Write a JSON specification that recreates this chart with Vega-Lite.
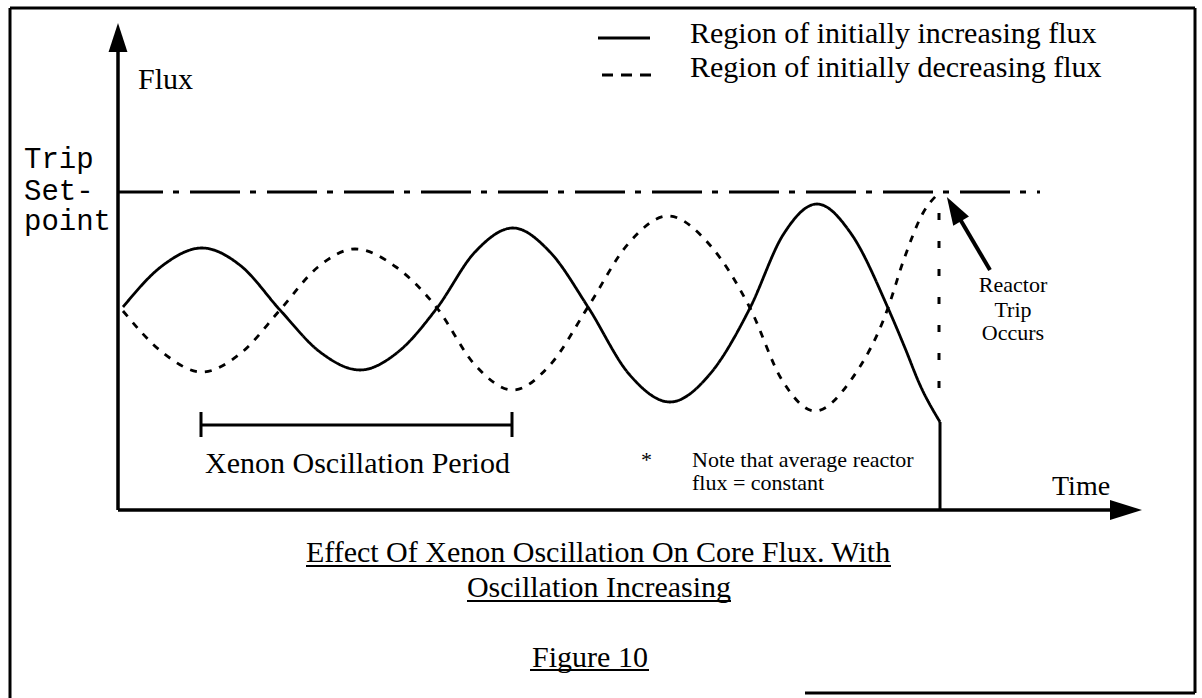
{
  "$schema": "https://vega.github.io/schema/vega-lite/v6.json",
  "width": 1202,
  "height": 698,
  "padding": 0,
  "autosize": {"type": "none"},
  "background": "white",
  "config": {"view": {"stroke": null}},
  "datasets": {
    "curves": [
      {"series": "increasing", "t": 0.5, "f": 20.3},
      {"series": "increasing", "t": 4.4, "f": 24.4},
      {"series": "increasing", "t": 8.4, "f": 26.2},
      {"series": "increasing", "t": 12.3, "f": 24.4},
      {"series": "increasing", "t": 16.2, "f": 20.0},
      {"series": "increasing", "t": 20.2, "f": 15.8},
      {"series": "increasing", "t": 24.2, "f": 14.0},
      {"series": "increasing", "t": 28.0, "f": 15.8},
      {"series": "increasing", "t": 31.9, "f": 20.2},
      {"series": "increasing", "t": 35.7, "f": 25.8},
      {"series": "increasing", "t": 39.5, "f": 28.2},
      {"series": "increasing", "t": 43.2, "f": 25.8},
      {"series": "increasing", "t": 47.0, "f": 20.3},
      {"series": "increasing", "t": 51.1, "f": 13.6},
      {"series": "increasing", "t": 55.2, "f": 10.8},
      {"series": "increasing", "t": 59.2, "f": 13.6},
      {"series": "increasing", "t": 63.2, "f": 20.2},
      {"series": "increasing", "t": 66.5, "f": 27.5},
      {"series": "increasing", "t": 69.9, "f": 30.6},
      {"series": "increasing", "t": 73.4, "f": 27.5},
      {"series": "increasing", "t": 77.0, "f": 20.2},
      {"series": "increasing", "t": 78.7, "f": 16.2},
      {"series": "increasing", "t": 80.2, "f": 12.5},
      {"series": "increasing", "t": 82.2, "f": 8.8},
      {"series": "decreasing", "t": 0.5, "f": 19.9},
      {"series": "decreasing", "t": 4.4, "f": 15.8},
      {"series": "decreasing", "t": 8.4, "f": 13.8},
      {"series": "decreasing", "t": 12.3, "f": 15.7},
      {"series": "decreasing", "t": 16.2, "f": 20.0},
      {"series": "decreasing", "t": 20.0, "f": 24.3},
      {"series": "decreasing", "t": 23.7, "f": 26.1},
      {"series": "decreasing", "t": 27.8, "f": 24.3},
      {"series": "decreasing", "t": 31.9, "f": 20.2},
      {"series": "decreasing", "t": 35.7, "f": 14.5},
      {"series": "decreasing", "t": 39.5, "f": 12.0},
      {"series": "decreasing", "t": 43.2, "f": 14.5},
      {"series": "decreasing", "t": 47.0, "f": 20.3},
      {"series": "decreasing", "t": 51.0, "f": 26.6},
      {"series": "decreasing", "t": 55.0, "f": 29.4},
      {"series": "decreasing", "t": 59.1, "f": 26.6},
      {"series": "decreasing", "t": 63.2, "f": 20.2},
      {"series": "decreasing", "t": 66.4, "f": 13.0},
      {"series": "decreasing", "t": 69.7, "f": 9.9},
      {"series": "decreasing", "t": 73.3, "f": 13.0},
      {"series": "decreasing", "t": 77.0, "f": 20.2},
      {"series": "decreasing", "t": 78.5, "f": 24.8},
      {"series": "decreasing", "t": 80.5, "f": 29.7},
      {"series": "decreasing", "t": 82.1, "f": 31.7}
    ],
    "segments": [
      {"kind": "frame", "t": -10.8, "f": 50.2, "t2": 107.7, "f2": 50.2},
      {"kind": "frame", "t": -10.8, "f": 50.2, "t2": -10.8, "f2": -18.8},
      {"kind": "frame", "t": 107.7, "f": 50.2, "t2": 107.7, "f2": -18.3},
      {"kind": "frame", "t": 68.7, "f": -18.3, "t2": 107.7, "f2": -18.3},
      {"kind": "axis", "t": 0, "f": 0, "t2": 0, "f2": 46.2},
      {"kind": "axis", "t": 0, "f": 0, "t2": 99.4, "f2": 0},
      {"kind": "trip", "t": 0, "f": 31.8, "t2": 92.2, "f2": 31.8},
      {"kind": "bar", "t": 8.3, "f": 8.5, "t2": 39.4, "f2": 8.5},
      {"kind": "bar", "t": 8.3, "f": 7.3, "t2": 8.3, "f2": 9.8},
      {"kind": "bar", "t": 39.4, "f": 7.3, "t2": 39.4, "f2": 9.8},
      {"kind": "bar", "t": 82.2, "f": 8.8, "t2": 82.2, "f2": 0},
      {"kind": "dropDashed", "t": 82.1, "f": 29.7, "t2": 82.1, "f2": 11.0},
      {"kind": "pointer", "t": 87.2, "f": 24.0, "t2": 83.9, "f2": 29.6},
      {"kind": "legendSolid", "t": 48.0, "f": 47.2, "t2": 53.2, "f2": 47.2},
      {"kind": "legendDashed", "t": 48.4, "f": 43.5, "t2": 53.6, "f2": 43.5},
      {"kind": "underline", "t": 18.8, "f": -5.6, "t2": 77.3, "f2": -5.6},
      {"kind": "underline", "t": 34.9, "f": -9.1, "t2": 61.3, "f2": -9.1},
      {"kind": "underline", "t": 41.2, "f": -16.0, "t2": 53.1, "f2": -16.0}
    ],
    "heads": [
      {"name": "yaxis", "t": 0, "f": 47.25},
      {"name": "xaxis", "t": 100.8, "f": 0},
      {"name": "trip", "t": 83.6, "f": 30.1}
    ],
    "labels": [
      {"group": "serif", "t": 2.0, "f": 42.1, "text": "Flux"},
      {"group": "serif", "t": 57.2, "f": 46.7, "text": "Region of initially increasing flux"},
      {"group": "serif", "t": 57.2, "f": 43.3, "text": "Region of initially decreasing flux"},
      {"group": "serif", "t": 8.7, "f": 3.7, "text": "Xenon Oscillation Period"},
      {"group": "mono", "t": -9.4, "f": 34.2, "text": "Trip"},
      {"group": "mono", "t": -9.4, "f": 31.0, "text": "Set-"},
      {"group": "mono", "t": -9.4, "f": 28.0, "text": "point"},
      {"group": "small", "t": 52.3, "f": 4.3, "text": "*"},
      {"group": "small", "t": 57.4, "f": 4.3, "text": "Note that average reactor"},
      {"group": "small", "t": 57.4, "f": 2.0, "text": "flux = constant"},
      {"group": "smallc", "t": 89.5, "f": 21.8, "text": "Reactor"},
      {"group": "smallc", "t": 89.5, "f": 19.3, "text": "Trip"},
      {"group": "smallc", "t": 89.5, "f": 17.0, "text": "Occurs"},
      {"group": "time", "t": 93.4, "f": 1.5, "text": "Time"},
      {"group": "title", "t": 48.0, "f": -5.2, "text": "Effect Of Xenon Oscillation On Core Flux. With"},
      {"group": "title", "t": 48.1, "f": -8.7, "text": "Oscillation Increasing"},
      {"group": "title", "t": 47.2, "f": -15.7, "text": "Figure 10"}
    ]
  },
  "layer": [
    {
      "data": {"name": "segments"},
      "transform": [{"filter": "datum.kind === 'frame'"}],
      "mark": {"type": "rule", "color": "black", "strokeWidth": 3},
      "encoding": {
        "x": {"field": "t", "type": "quantitative", "scale": {"domain": [-11.8, 108.4], "nice": false, "zero": false}, "axis": null},
        "y": {"field": "f", "type": "quantitative", "scale": {"domain": [-18.8, 51], "nice": false, "zero": false}, "axis": null},
        "x2": {"field": "t2"},
        "y2": {"field": "f2"}
      }
    },
    {
      "data": {"name": "segments"},
      "transform": [{"filter": "datum.kind === 'axis'"}],
      "mark": {"type": "rule", "color": "black", "strokeWidth": 3.5},
      "encoding": {
        "x": {"field": "t", "type": "quantitative", "scale": {"domain": [-11.8, 108.4], "nice": false, "zero": false}, "axis": null},
        "y": {"field": "f", "type": "quantitative", "scale": {"domain": [-18.8, 51], "nice": false, "zero": false}, "axis": null},
        "x2": {"field": "t2"},
        "y2": {"field": "f2"}
      }
    },
    {
      "data": {"name": "segments"},
      "transform": [{"filter": "datum.kind === 'trip'"}],
      "mark": {"type": "rule", "color": "black", "strokeWidth": 3, "strokeDash": [50, 10, 6, 11], "strokeDashOffset": 5},
      "encoding": {
        "x": {"field": "t", "type": "quantitative", "scale": {"domain": [-11.8, 108.4], "nice": false, "zero": false}, "axis": null},
        "y": {"field": "f", "type": "quantitative", "scale": {"domain": [-18.8, 51], "nice": false, "zero": false}, "axis": null},
        "x2": {"field": "t2"},
        "y2": {"field": "f2"}
      }
    },
    {
      "data": {"name": "segments"},
      "transform": [{"filter": "datum.kind === 'bar' || datum.kind === 'legendSolid'"}],
      "mark": {"type": "rule", "color": "black", "strokeWidth": 3},
      "encoding": {
        "x": {"field": "t", "type": "quantitative", "scale": {"domain": [-11.8, 108.4], "nice": false, "zero": false}, "axis": null},
        "y": {"field": "f", "type": "quantitative", "scale": {"domain": [-18.8, 51], "nice": false, "zero": false}, "axis": null},
        "x2": {"field": "t2"},
        "y2": {"field": "f2"}
      }
    },
    {
      "data": {"name": "segments"},
      "transform": [{"filter": "datum.kind === 'dropDashed'"}],
      "mark": {"type": "rule", "color": "black", "strokeWidth": 3, "strokeDash": [7, 21]},
      "encoding": {
        "x": {"field": "t", "type": "quantitative", "scale": {"domain": [-11.8, 108.4], "nice": false, "zero": false}, "axis": null},
        "y": {"field": "f", "type": "quantitative", "scale": {"domain": [-18.8, 51], "nice": false, "zero": false}, "axis": null},
        "x2": {"field": "t2"},
        "y2": {"field": "f2"}
      }
    },
    {
      "data": {"name": "segments"},
      "transform": [{"filter": "datum.kind === 'legendDashed'"}],
      "mark": {"type": "rule", "color": "black", "strokeWidth": 3, "strokeDash": [11, 8]},
      "encoding": {
        "x": {"field": "t", "type": "quantitative", "scale": {"domain": [-11.8, 108.4], "nice": false, "zero": false}, "axis": null},
        "y": {"field": "f", "type": "quantitative", "scale": {"domain": [-18.8, 51], "nice": false, "zero": false}, "axis": null},
        "x2": {"field": "t2"},
        "y2": {"field": "f2"}
      }
    },
    {
      "data": {"name": "segments"},
      "transform": [{"filter": "datum.kind === 'pointer'"}],
      "mark": {"type": "rule", "color": "black", "strokeWidth": 4},
      "encoding": {
        "x": {"field": "t", "type": "quantitative", "scale": {"domain": [-11.8, 108.4], "nice": false, "zero": false}, "axis": null},
        "y": {"field": "f", "type": "quantitative", "scale": {"domain": [-18.8, 51], "nice": false, "zero": false}, "axis": null},
        "x2": {"field": "t2"},
        "y2": {"field": "f2"}
      }
    },
    {
      "data": {"name": "segments"},
      "transform": [{"filter": "datum.kind === 'underline'"}],
      "mark": {"type": "rule", "color": "black", "strokeWidth": 2},
      "encoding": {
        "x": {"field": "t", "type": "quantitative", "scale": {"domain": [-11.8, 108.4], "nice": false, "zero": false}, "axis": null},
        "y": {"field": "f", "type": "quantitative", "scale": {"domain": [-18.8, 51], "nice": false, "zero": false}, "axis": null},
        "x2": {"field": "t2"},
        "y2": {"field": "f2"}
      }
    },
    {
      "data": {"name": "curves"},
      "mark": {"type": "line", "interpolate": "monotone", "color": "black", "strokeWidth": 2.8, "strokeCap": "butt"},
      "encoding": {
        "x": {"field": "t", "type": "quantitative", "scale": {"domain": [-11.8, 108.4], "nice": false, "zero": false}, "axis": null},
        "y": {"field": "f", "type": "quantitative", "scale": {"domain": [-18.8, 51], "nice": false, "zero": false}, "axis": null},
        "strokeDash": {"field": "series", "type": "nominal", "scale": {"domain": ["increasing", "decreasing"], "range": [[1, 0], [7, 8]]}, "legend": null}
      }
    },
    {
      "data": {"name": "heads"},
      "transform": [{"filter": "datum.name === 'yaxis'"}],
      "mark": {"type": "point", "shape": "M0,-1L0.65,1L-0.65,1Z", "size": 841, "filled": true, "color": "black", "opacity": 1, "strokeWidth": 0},
      "encoding": {
        "x": {"field": "t", "type": "quantitative", "scale": {"domain": [-11.8, 108.4], "nice": false, "zero": false}, "axis": null},
        "y": {"field": "f", "type": "quantitative", "scale": {"domain": [-18.8, 51], "nice": false, "zero": false}, "axis": null}
      }
    },
    {
      "data": {"name": "heads"},
      "transform": [{"filter": "datum.name === 'xaxis'"}],
      "mark": {"type": "point", "shape": "M1,0L-1,-0.62L-1,0.62Z", "size": 1024, "filled": true, "color": "black", "opacity": 1, "strokeWidth": 0},
      "encoding": {
        "x": {"field": "t", "type": "quantitative", "scale": {"domain": [-11.8, 108.4], "nice": false, "zero": false}, "axis": null},
        "y": {"field": "f", "type": "quantitative", "scale": {"domain": [-18.8, 51], "nice": false, "zero": false}, "axis": null}
      }
    },
    {
      "data": {"name": "heads"},
      "transform": [{"filter": "datum.name === 'trip'"}],
      "mark": {"type": "point", "shape": "M0,-1L0.65,1L-0.65,1Z", "size": 784, "angle": -30.5, "filled": true, "color": "black", "opacity": 1, "strokeWidth": 0},
      "encoding": {
        "x": {"field": "t", "type": "quantitative", "scale": {"domain": [-11.8, 108.4], "nice": false, "zero": false}, "axis": null},
        "y": {"field": "f", "type": "quantitative", "scale": {"domain": [-18.8, 51], "nice": false, "zero": false}, "axis": null}
      }
    },
    {
      "data": {"name": "labels"},
      "transform": [{"filter": "datum.group === 'serif'"}],
      "mark": {"type": "text", "font": "Liberation Serif", "fontSize": 30, "align": "left", "baseline": "alphabetic", "color": "black"},
      "encoding": {
        "x": {"field": "t", "type": "quantitative", "scale": {"domain": [-11.8, 108.4], "nice": false, "zero": false}, "axis": null},
        "y": {"field": "f", "type": "quantitative", "scale": {"domain": [-18.8, 51], "nice": false, "zero": false}, "axis": null},
        "text": {"field": "text"}
      }
    },
    {
      "data": {"name": "labels"},
      "transform": [{"filter": "datum.group === 'title'"}],
      "mark": {"type": "text", "font": "Liberation Serif", "fontSize": 30, "align": "center", "baseline": "alphabetic", "color": "black"},
      "encoding": {
        "x": {"field": "t", "type": "quantitative", "scale": {"domain": [-11.8, 108.4], "nice": false, "zero": false}, "axis": null},
        "y": {"field": "f", "type": "quantitative", "scale": {"domain": [-18.8, 51], "nice": false, "zero": false}, "axis": null},
        "text": {"field": "text"}
      }
    },
    {
      "data": {"name": "labels"},
      "transform": [{"filter": "datum.group === 'mono'"}],
      "mark": {"type": "text", "font": "Liberation Mono", "fontSize": 29, "align": "left", "baseline": "alphabetic", "color": "black"},
      "encoding": {
        "x": {"field": "t", "type": "quantitative", "scale": {"domain": [-11.8, 108.4], "nice": false, "zero": false}, "axis": null},
        "y": {"field": "f", "type": "quantitative", "scale": {"domain": [-18.8, 51], "nice": false, "zero": false}, "axis": null},
        "text": {"field": "text"}
      }
    },
    {
      "data": {"name": "labels"},
      "transform": [{"filter": "datum.group === 'small'"}],
      "mark": {"type": "text", "font": "Liberation Serif", "fontSize": 22, "align": "left", "baseline": "alphabetic", "color": "black"},
      "encoding": {
        "x": {"field": "t", "type": "quantitative", "scale": {"domain": [-11.8, 108.4], "nice": false, "zero": false}, "axis": null},
        "y": {"field": "f", "type": "quantitative", "scale": {"domain": [-18.8, 51], "nice": false, "zero": false}, "axis": null},
        "text": {"field": "text"}
      }
    },
    {
      "data": {"name": "labels"},
      "transform": [{"filter": "datum.group === 'smallc'"}],
      "mark": {"type": "text", "font": "Liberation Serif", "fontSize": 22, "align": "center", "baseline": "alphabetic", "color": "black"},
      "encoding": {
        "x": {"field": "t", "type": "quantitative", "scale": {"domain": [-11.8, 108.4], "nice": false, "zero": false}, "axis": null},
        "y": {"field": "f", "type": "quantitative", "scale": {"domain": [-18.8, 51], "nice": false, "zero": false}, "axis": null},
        "text": {"field": "text"}
      }
    },
    {
      "data": {"name": "labels"},
      "transform": [{"filter": "datum.group === 'time'"}],
      "mark": {"type": "text", "font": "Liberation Serif", "fontSize": 28, "align": "left", "baseline": "alphabetic", "color": "black"},
      "encoding": {
        "x": {"field": "t", "type": "quantitative", "scale": {"domain": [-11.8, 108.4], "nice": false, "zero": false}, "axis": null},
        "y": {"field": "f", "type": "quantitative", "scale": {"domain": [-18.8, 51], "nice": false, "zero": false}, "axis": null},
        "text": {"field": "text"}
      }
    }
  ]
}
